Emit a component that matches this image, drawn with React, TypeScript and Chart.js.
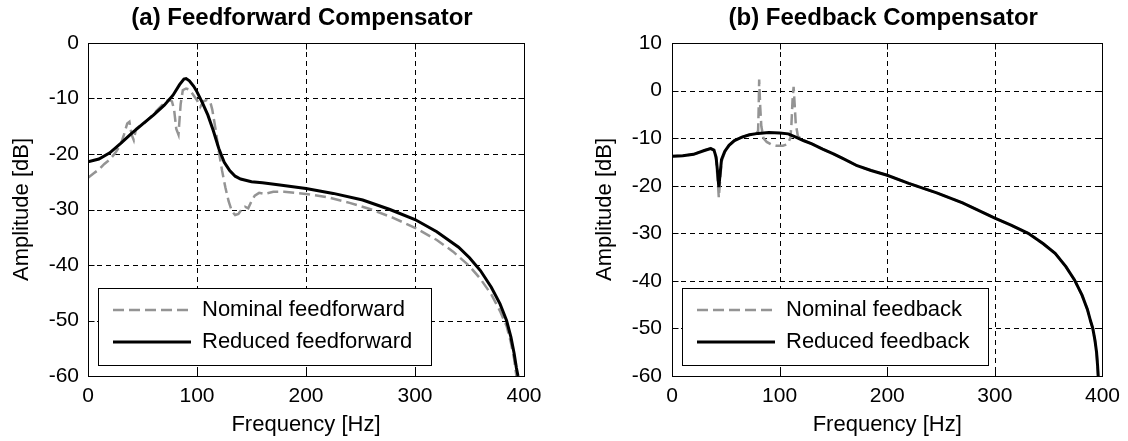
import React, { useEffect, useRef } from 'react';
import { Chart, registerables } from 'chart.js';

Chart.register(...registerables);

const FONT = "'Liberation Sans', Arial, Helvetica, sans-serif";

// ---- tick values ----
const freqTicks = [0, 100, 200, 300, 400];
const ffDbTicks = [-60, -50, -40, -30, -20, -10, 0];
const fbDbTicks = [-60, -50, -40, -30, -20, -10, 0, 10];

// ---- (a) Feedforward compensator ----
const ffNominalFreq = [0, 5, 10, 15, 20, 25, 30, 33, 36, 38, 40, 42, 44, 47, 50, 55, 60, 65, 70, 74, 77, 79, 81, 83, 85, 87, 90, 93, 96, 100, 103, 106, 109, 112, 114, 117, 120, 123, 126, 129, 132, 135, 138, 141, 144, 147, 150, 153, 157, 162, 170, 180, 190, 200, 220, 240, 260, 280, 300, 320, 335, 350, 360, 370, 378, 384, 388, 391, 393];
const ffNominalDb = [-24.3, -23.5, -22.8, -21.8, -21, -19.8, -18.3, -16.5, -14.5, -14.2, -16.5, -17.5, -15.5, -15, -14.8, -13.8, -12.8, -11.8, -10.8, -10.2, -10.5, -12, -15.5, -16.5, -11, -8.5, -8.2, -8.4, -9.2, -10.3, -11.5, -10.5, -10.3, -10.5, -12, -15.5, -19.5, -23, -26, -28.5, -30.3, -31, -30.8, -30, -29.5, -29.8, -28.5, -27.5, -27, -27.2, -26.8, -26.8, -27, -27.2, -27.8, -28.8, -30, -31.5, -33.3, -35.5, -37.6, -40.2, -42.5, -45.3, -48.3, -51, -54, -57, -60];

const ffReducedFreq = [0, 10, 20, 30, 40, 50, 60, 70, 78, 84, 88, 90, 93, 97, 100, 105, 110, 115, 120, 125, 130, 135, 140, 150, 160, 176, 200, 225, 252, 277, 300, 320, 340, 350, 360, 370, 378, 384, 388, 391, 393, 394.5];
const ffReducedDb = [-21.4, -20.9, -19.8, -18.1, -16.3, -14.6, -13, -11.2, -9.4, -7.5, -6.5, -6.4, -6.8, -7.8, -8.8, -10.8, -13, -15.8, -19, -21.5, -23, -24, -24.5, -25, -25.2, -25.6, -26.2, -27.1, -28.3, -30, -31.8, -34, -36.8, -38.7, -41, -44, -47, -50, -53, -56, -58.5, -60];

// ---- (b) Feedback compensator ----
const fbNominalFreq = [0, 10, 20, 30, 36, 39, 41, 42.5, 43.5, 44.5, 46, 49, 53, 58, 65, 72, 78, 80, 80.5, 81, 82, 83, 85, 88, 92, 97, 103, 107, 110, 111, 112, 113, 114, 115, 117, 122, 130, 140, 150, 160, 172, 185, 200, 220, 246, 270, 300, 315, 331, 345, 356, 366, 374, 381, 386, 389, 391, 393, 394.5, 395.5, 396];
const fbNominalDb = [-13.8, -13.7, -13.4, -12.6, -12.1, -12.6, -14.5, -19, -22.5, -19.5, -15, -13, -11.5, -10.5, -9.8, -9.3, -9.2, -8.5, -4, 2.3, -3.5, -7.5, -10, -10.8, -11.3, -11.6, -11.6, -11.3, -10, -7, -2, 0.8, -3, -7, -9.6, -10.5, -11.2, -12.3, -13.3, -14.4, -15.8, -16.8, -17.8, -19.5, -21.5, -23.6, -26.8, -28.3, -30, -32.2, -34.2, -37, -39.8, -43, -46, -48.5, -50, -52.5, -55, -58, -60];

const fbReducedFreq = [0, 10, 20, 30, 36, 39, 41, 42.5, 43.5, 44.5, 46, 49, 53, 58, 65, 72, 80, 90, 100, 108, 115, 122, 130, 140, 150, 160, 172, 185, 200, 220, 246, 270, 300, 315, 331, 345, 356, 366, 374, 381, 386, 389, 391, 393, 394.5, 395.5, 396];
const fbReducedDb = [-13.8, -13.7, -13.4, -12.6, -12.2, -12.5, -14, -17.5, -20.3, -18, -14.5, -12.8, -11.5, -10.5, -9.8, -9.3, -9, -8.8, -8.9, -9.1, -9.8, -10.5, -11.2, -12.3, -13.3, -14.4, -15.8, -16.8, -17.8, -19.5, -21.5, -23.6, -26.8, -28.3, -30, -32.2, -34.2, -37, -39.8, -43, -46, -48.5, -50, -52.5, -55, -58, -60];

const toPoints = (xs: number[], ys: number[]) => xs.map((x, i) => ({ x, y: ys[i] }));

const matlabAxes = {
  id: 'matlabAxes',
  beforeDatasetsDraw(chart: any) {
    const { ctx, chartArea, scales } = chart;
    const { left, right, top, bottom } = chartArea;
    ctx.save();
    ctx.strokeStyle = '#000';
    ctx.lineWidth = 1;
    ctx.setLineDash([5, 4]);
    scales.x.ticks.forEach((t: any) => {
      const px = Math.round(scales.x.getPixelForValue(t.value)) + 0.5;
      if (px <= left + 2 || px >= right - 2) return;
      ctx.beginPath();
      ctx.moveTo(px, top);
      ctx.lineTo(px, bottom);
      ctx.stroke();
    });
    scales.y.ticks.forEach((t: any) => {
      const py = Math.round(scales.y.getPixelForValue(t.value)) + 0.5;
      if (py <= top + 2 || py >= bottom - 2) return;
      ctx.beginPath();
      ctx.moveTo(left, py);
      ctx.lineTo(right, py);
      ctx.stroke();
    });
    ctx.restore();
  },
  afterDatasetsDraw(chart: any, _args: any, opts: any) {
    const { ctx, chartArea, scales } = chart;
    const { left, right, top, bottom } = chartArea;
    ctx.save();
    ctx.setLineDash([]);
    ctx.strokeStyle = '#000';
    ctx.lineWidth = 1;
    // box
    const L = Math.round(left) + 0.5, R = Math.round(right) + 0.5;
    const T = Math.round(top) + 0.5, B = Math.round(bottom) + 0.5;
    ctx.strokeRect(L, T, R - L, B - T);
    // inward tick marks
    const tl = 6;
    ctx.beginPath();
    scales.x.ticks.forEach((t: any) => {
      const px = Math.round(scales.x.getPixelForValue(t.value)) + 0.5;
      ctx.moveTo(px, B); ctx.lineTo(px, B - tl);
      ctx.moveTo(px, T); ctx.lineTo(px, T + tl);
    });
    scales.y.ticks.forEach((t: any) => {
      const py = Math.round(scales.y.getPixelForValue(t.value)) + 0.5;
      ctx.moveTo(L, py); ctx.lineTo(L + tl, py);
      ctx.moveTo(R, py); ctx.lineTo(R - tl, py);
    });
    ctx.stroke();

    // legend (south-west inside the axes)
    const ds = chart.data.datasets;
    ctx.font = `22px ${FONT}`;
    const textW = Math.max(...ds.map((d: any) => ctx.measureText(d.label).width));
    const bx = Math.round(left) + 10;
    const lineStart = bx + 15;
    const lineLen = 78;
    const textX = lineStart + lineLen + 11;
    const bw = Math.round(textX + textW + 19 - bx);
    const bh = 77;
    const by = Math.round(bottom) - 11 - bh;
    ctx.fillStyle = '#fff';
    ctx.fillRect(bx, by, bw, bh);
    ctx.strokeStyle = '#000';
    ctx.lineWidth = 1;
    ctx.strokeRect(bx + 0.5, by + 0.5, bw, bh);
    const rows = [by + 22, by + 54];
    ds.forEach((d: any, i: number) => {
      const ry = rows[i];
      ctx.save();
      ctx.strokeStyle = d.borderColor;
      ctx.lineWidth = d.borderWidth;
      ctx.setLineDash(d.borderDash || []);
      ctx.beginPath();
      ctx.moveTo(lineStart, ry);
      ctx.lineTo(lineStart + lineLen, ry);
      ctx.stroke();
      ctx.restore();
      ctx.fillStyle = '#000';
      ctx.textBaseline = 'middle';
      ctx.textAlign = 'left';
      ctx.fillText(d.label, textX, ry);
    });

    // title
    ctx.font = `bold 24px ${FONT}`;
    ctx.fillStyle = '#000';
    ctx.textAlign = 'center';
    ctx.textBaseline = 'middle';
    ctx.fillText(opts.title, (left + right) / 2 - 4, 18);
    ctx.restore();
  },
};

type PanelCfg = {
  title: string;
  nominal: { label: string; data: { x: number; y: number }[] };
  reduced: { label: string; data: { x: number; y: number }[] };
  yMin: number;
  yMax: number;
  yTicks: number[];
  yAxisWidth: number;
  yTitlePad: number;
  yTickPad: number;
  rightPad: number;
};

function Panel({ cfg }: { cfg: PanelCfg }) {
  const ref = useRef<HTMLCanvasElement | null>(null);
  useEffect(() => {
    if (!ref.current) return;
    const chart = new Chart(ref.current, {
      type: 'line',
      data: {
        datasets: [
          {
            label: cfg.nominal.label,
            data: cfg.nominal.data,
            borderColor: '#949494',
            borderWidth: 2.5,
            borderDash: [11, 5],
            pointRadius: 0,
            tension: 0,
            fill: false,
            order: 1,
          },
          {
            label: cfg.reduced.label,
            data: cfg.reduced.data,
            borderColor: '#000000',
            borderWidth: 3,
            pointRadius: 0,
            tension: 0,
            fill: false,
            order: 0,
          },
        ],
      },
      options: {
        responsive: false,
        animation: false,
        devicePixelRatio: 1,
        events: [],
        layout: { padding: { top: 43, left: 0, right: cfg.rightPad, bottom: 0 } },
        plugins: {
          legend: { display: false },
          tooltip: { enabled: false },
          title: { display: false },
          matlabAxes: { title: cfg.title },
        } as any,
        scales: {
          x: {
            type: 'linear',
            min: 0,
            max: 400,
            afterBuildTicks: (s: any) => {
              s.ticks = freqTicks.map((v) => ({ value: v }));
            },
            afterFit: (s: any) => {
              s.height = 65;
            },
            grid: { display: false, drawTicks: false },
            border: { display: false },
            ticks: {
              padding: 8,
              maxRotation: 0,
              autoSkip: false,
              color: '#000',
              font: { family: FONT, size: 21, lineHeight: 1.2 },
            },
            title: {
              display: true,
              text: 'Frequency [Hz]',
              color: '#000',
              font: { family: FONT, size: 22, lineHeight: 1.2 },
              padding: { top: 0, bottom: 3 },
            },
          },
          y: {
            type: 'linear',
            min: cfg.yMin,
            max: cfg.yMax,
            afterBuildTicks: (s: any) => {
              s.ticks = cfg.yTicks.map((v) => ({ value: v }));
            },
            afterFit: (s: any) => {
              s.width = cfg.yAxisWidth;
            },
            grid: { display: false, drawTicks: false },
            border: { display: false },
            ticks: {
              padding: cfg.yTickPad,
              autoSkip: false,
              color: '#000',
              font: { family: FONT, size: 21, lineHeight: 1.2 },
            },
            title: {
              display: true,
              text: 'Amplitude [dB]',
              color: '#000',
              font: { family: FONT, size: 22, lineHeight: 1.2 },
              padding: { top: cfg.yTitlePad, bottom: 0 },
            },
          },
        },
      },
      plugins: [matlabAxes as any],
    });
    return () => chart.destroy();
  }, [cfg]);
  return <canvas ref={ref} width={564} height={441} style={{ display: 'block', width: 564, height: 441 }} />;
}

const panelA: PanelCfg = {
  title: '(a) Feedforward Compensator',
  nominal: { label: 'Nominal feedforward', data: toPoints(ffNominalFreq, ffNominalDb) },
  reduced: { label: 'Reduced feedforward', data: toPoints(ffReducedFreq, ffReducedDb) },
  yMin: -60,
  yMax: 0,
  yTicks: ffDbTicks,
  yAxisWidth: 88,
  yTitlePad: 9,
  yTickPad: 9,
  rightPad: 40,
};

const panelB: PanelCfg = {
  title: '(b) Feedback Compensator',
  nominal: { label: 'Nominal feedback', data: toPoints(fbNominalFreq, fbNominalDb) },
  reduced: { label: 'Reduced feedback', data: toPoints(fbReducedFreq, fbReducedDb) },
  yMin: -60,
  yMax: 10,
  yTicks: fbDbTicks,
  yAxisWidth: 108,
  yTitlePad: 28,
  yTickPad: 10,
  rightPad: 20,
};

export default function App() {
  return (
    <div
      style={{
        position: 'absolute',
        left: 0,
        top: 0,
        width: 1128,
        height: 441,
        display: 'flex',
        background: '#fff',
      }}
    >
      <Panel cfg={panelA} />
      <Panel cfg={panelB} />
    </div>
  );
}
